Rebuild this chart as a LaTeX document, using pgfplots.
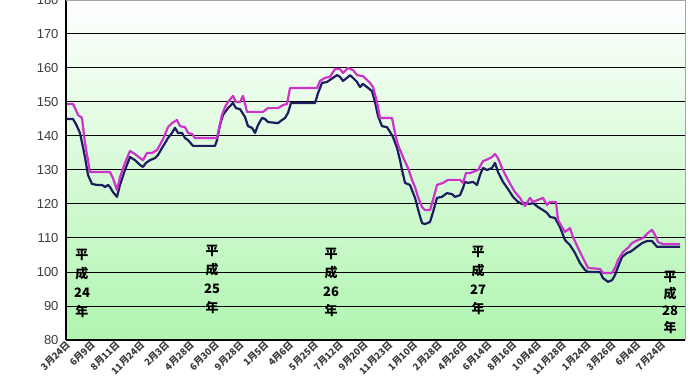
\documentclass[border=0pt]{standalone}
\usepackage{pgfplots}
\pgfplotsset{compat=1.18}
\usepackage{fontspec}
\setmainfont{Liberation Sans}
\newfontfamily\jp{Noto Sans CJK JP}
\definecolor{navyline}{RGB}{28,28,96}
\definecolor{magline}{RGB}{204,51,204}
\definecolor{bggreen}{RGB}{176,245,176}
\definecolor{ticktext}{RGB}{60,60,60}
\begin{document}
\begin{tikzpicture}
\begin{axis}[
  name=ax,
  at={(0,0)}, anchor=south west,
  scale only axis,
  width=619pt, height=340pt,
  xmin=66, xmax=685, ymin=80, ymax=180,
  ytick={80,90,...,180},
  ymajorgrids,
  grid style={black, line width=1pt},
  major tick length=0pt,
  axis background/.style={top color=white, bottom color=bggreen},
  axis line style={draw=none},
  /pgf/number format/assume math mode=true,
  yticklabel style={font=\fontsize{13}{14}\selectfont, text=ticktext, xshift=-4pt},
  xtick={67,91.8,116.6,141.4,166.2,191,215.8,240.6,265.4,290.2,315,339.8,364.6,389.4,414.2,439,463.8,488.6,513.4,538.2,563,587.8,612.6,637.4,662.2},
  xticklabels={3月24日,6月9日,8月11日,11月24日,2月3日,4月28日,6月30日,9月28日,1月5日,4月6日,5月25日,7月12日,9月20日,11月23日,1月10日,2月28日,4月26日,6月14日,8月16日,10月4日,11月28日,1月24日,3月26日,6月4日,7月24日},
  xticklabel style={font=\jp\fontsize{9.5}{10}\selectfont\bfseries, text=ticktext, rotate=45, anchor=east, inner sep=1pt, yshift=-3pt},
  clip=false,
]
\addplot[navyline, line width=2.2pt, line join=round] coordinates {
(66,145.0)(73,145.0)(76,143.5)(80,140.9)(85,133.8)(88,128.5)(92,125.9)(97,125.6)(102,125.6)(105,125.0)(108,125.6)(110,125.0)(113,123.5)(117,122.1)(120,125.6)(125,130.0)(130,133.8)(135,132.9)(140,131.5)(143,130.9)(146,132.1)(150,132.9)(155,133.5)(158,134.4)(162,136.5)(165,137.9)(168,139.4)(172,140.9)(175,142.4)(178,140.9)(182,140.9)(185,139.4)(188,138.8)(193,137.1)(215,137.1)(217,138.8)(220,143.2)(223,146.2)(228,148.2)(233,149.7)(236,148.2)(240,147.9)(245,145.6)(248,142.9)(252,142.4)(255,140.9)(258,143.2)(262,145.3)(265,145.0)(268,144.1)(278,143.8)(282,144.7)(285,145.3)(288,146.8)(291,149.7)(315,149.7)(318,152.6)(322,155.6)(327,155.9)(330,156.5)(333,157.1)(337,157.9)(340,157.4)(343,156.2)(347,157.1)(350,157.9)(353,157.1)(357,155.9)(360,154.4)(363,155.3)(367,154.4)(372,153.2)(375,150.0)(378,145.9)(382,142.9)(387,142.6)(390,141.2)(393,139.7)(397,136.5)(400,132.9)(402,130.0)(405,126.2)(410,125.6)(415,121.8)(419,117.4)(422,114.4)(425,114.1)(430,114.7)(433,117.6)(437,121.8)(442,122.1)(447,123.2)(452,122.9)(455,122.1)(460,122.6)(463,124.7)(465,126.5)(468,126.2)(473,126.5)(477,125.6)(480,128.5)(483,130.6)(487,130.0)(492,130.6)(495,132.1)(498,129.4)(503,126.5)(508,124.4)(513,122.1)(518,120.6)(522,120.0)(525,120.3)(530,120.0)(533,120.3)(538,119.1)(543,118.2)(547,117.4)(550,116.2)(555,115.9)(560,113.2)(565,109.4)(570,107.9)(575,105.6)(580,102.6)(585,100.6)(588,100.0)(600,100.0)(603,98.2)(608,97.1)(612,97.6)(615,99.1)(618,101.5)(622,104.4)(627,105.6)(630,105.9)(633,106.5)(637,107.4)(642,108.5)(647,109.1)(652,109.1)(657,107.4)(680,107.4)
};
\addplot[magline, line width=2.2pt, line join=round] coordinates {
(66,149.4)(73,149.4)(75,148.2)(78,146.2)(82,145.3)(85,137.9)(90,129.4)(110,129.4)(113,127.6)(117,124.1)(120,127.9)(125,132.1)(130,135.6)(135,134.7)(140,133.5)(143,132.9)(147,135.0)(152,135.0)(157,135.9)(160,137.4)(164,139.7)(168,142.6)(172,143.8)(177,144.7)(180,142.9)(185,142.6)(188,140.9)(192,140.6)(195,139.4)(217,139.4)(218,140.9)(222,146.2)(225,148.5)(228,150.0)(233,151.8)(236,150.0)(240,150.0)(243,151.8)(247,147.1)(263,147.1)(268,148.2)(278,148.2)(283,149.1)(287,149.4)(290,154.1)(317,154.1)(320,156.2)(325,157.1)(330,157.4)(335,159.7)(340,159.7)(343,158.5)(348,160.0)(353,159.4)(357,157.9)(363,157.6)(367,156.5)(370,155.6)(373,154.4)(377,150.0)(380,145.3)(392,145.3)(395,140.9)(398,137.4)(403,133.8)(408,130.6)(412,127.1)(415,125.0)(418,122.1)(422,119.1)(425,118.2)(430,118.2)(433,121.2)(437,125.6)(443,126.2)(448,127.1)(460,127.1)(463,126.2)(466,129.1)(470,129.1)(478,130.0)(483,132.6)(488,133.2)(492,133.8)(495,134.7)(498,133.5)(502,130.6)(507,127.6)(512,125.0)(515,123.5)(520,121.8)(525,119.4)(530,121.8)(533,120.6)(538,121.2)(543,121.8)(547,119.7)(550,120.6)(556,120.6)(558,115.3)(562,113.2)(565,111.8)(570,112.9)(573,110.3)(578,107.1)(583,104.1)(588,101.2)(600,100.9)(603,99.7)(612,99.7)(615,101.2)(618,103.5)(623,105.9)(628,107.1)(632,108.5)(638,109.4)(643,110.0)(648,111.5)(652,112.4)(655,110.9)(658,108.8)(663,108.2)(680,108.2)
};
\draw[black, line width=1.3pt] (axis cs:66,80) -- (axis cs:66,180);
\draw[black, line width=1.3pt] (axis cs:66,80) -- (axis cs:685,80);
\draw[gray!70, line width=0.8pt] (axis cs:685,80) -- (axis cs:685,180);
\draw[gray!70, line width=0.8pt] (axis cs:66,180) -- (axis cs:685,180);
\tikzset{yr/.style={font=\jp\fontsize{13}{19}\selectfont\bfseries, align=center, inner sep=0pt}}
\node[yr] at (axis cs:82,96.6) {平\\成\\24\\年};
\node[yr] at (axis cs:212,97.8) {平\\成\\25\\年};
\node[yr] at (axis cs:331,96.8) {平\\成\\26\\年};
\node[yr] at (axis cs:478,97.5) {平\\成\\27\\年};
\node[yr, font=\jp\fontsize{13}{17}\selectfont\bfseries] at (axis cs:670,90.9) {平\\成\\28\\年};
\end{axis}
\pgfresetboundingbox
\useasboundingbox (-66pt,-48pt) rectangle (624pt,340pt);
\end{tikzpicture}
\end{document}
